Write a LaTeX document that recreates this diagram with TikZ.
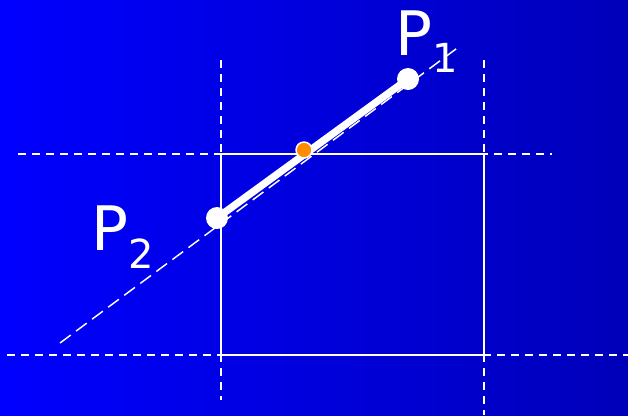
\documentclass[tikz,border=0pt]{standalone}
\usepackage{fontspec}
\setmainfont{DejaVu Sans}
\begin{document}
\begin{tikzpicture}[x=0.75pt,y=-0.75pt,
  guide/.style={white,line width=1.3pt,dash pattern=on 6pt off 4.5pt},
  diag/.style={white,line width=1.1pt,dash pattern=on 10pt off 5pt},
  pt/.style={circle,fill=white,inner sep=0pt,minimum size=16.5pt},
  mid/.style={circle,fill=orange!90!yellow,draw=white,line width=1.1pt,inner sep=0pt,minimum size=12pt},
  lab/.style={text=white,font=\fontsize{46}{50}\selectfont,inner sep=0pt}]
\shade[left color={rgb,255:red,0;green,0;blue,255},right color={rgb,255:red,0;green,0;blue,185}] (0,0) rectangle (628,415);
\useasboundingbox (0,0) rectangle (628,415);
% guide lines
\draw[guide] (18,154) -- (552,154);
\draw[guide] (7,355) -- (628,355);
\draw[guide] (221,60) -- (221,400);
\draw[guide] (484,60) -- (484,415);
% window
\draw[white,line width=1.5pt] (221,154) rectangle (484,355);
% diagonal dashed line
\coordinate (d1) at (60,343);
\coordinate (d2) at (460,46);
\draw[diag] (d1) -- (d2);
% points
\node[pt] (p2) at (217,218) {};
\node[pt] (p1) at (408,79) {};
\draw[white,line width=5.5pt] (p2.center) -- (p1.center);
\node[mid] (m) at (304,150) {};
\node[lab,anchor=base west] (l1) at (395,55) {P\textsubscript{\fontsize{30}{32}\selectfont\raisebox{-6pt}{1}}};
\node[lab,anchor=base west] (l2) at (91,250) {P\textsubscript{\fontsize{30}{32}\selectfont\raisebox{-6pt}{2}}};
\end{tikzpicture}
\end{document}
